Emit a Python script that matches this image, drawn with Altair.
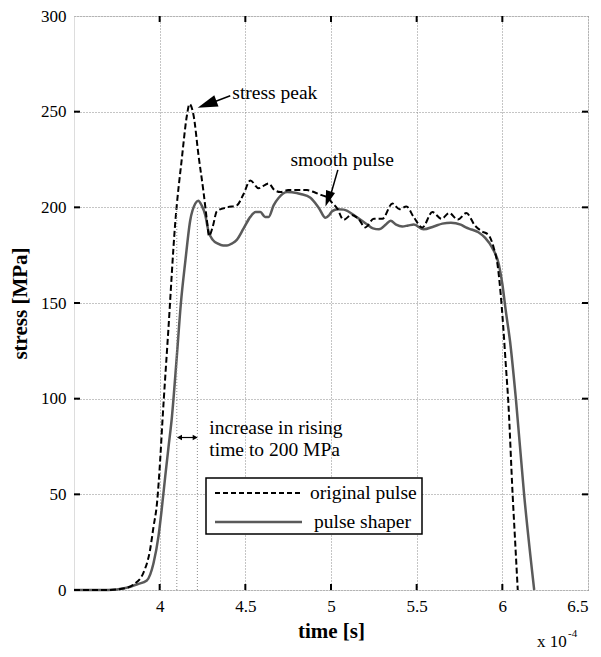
import altair as alt
import pandas as pd

# ---------------- data ----------------
orig_time = [3.50, 3.70, 3.80, 3.85, 3.905, 3.944, 3.964, 3.984, 4.003, 4.016, 4.05, 4.091,
             4.13, 4.159, 4.174, 4.198, 4.227, 4.256, 4.276, 4.288, 4.31, 4.334, 4.393, 4.45,
             4.49, 4.529, 4.578, 4.636, 4.67, 4.705, 4.75, 4.82, 4.86, 4.90, 4.94, 4.98, 5.01,
             5.036, 5.073, 5.12, 5.16, 5.20, 5.25, 5.30, 5.358, 5.40, 5.44, 5.482, 5.533, 5.592,
             5.645, 5.69, 5.74, 5.79, 5.84, 5.88, 5.92, 5.95, 5.972, 5.99, 6.005, 6.02, 6.035,
             6.06, 6.075, 6.09]
orig_stress = [0, 0, 1, 3, 9, 21, 33, 45, 68, 88, 135, 192,
               226, 248, 254, 248, 227, 208, 193, 185, 190, 198, 200, 201,
               207, 214, 210, 212.5, 209, 208, 209, 209, 209, 208, 206.5, 205, 202,
               199.5, 193.5, 196, 194, 189.5, 194, 194, 202, 199, 200.5, 195, 189.5, 197.5,
               194, 197, 193.6, 197, 190.5, 187.5, 185.5, 178.8, 170, 155, 138, 118, 98,
               50, 25, 0]

shaper_time = [3.50, 3.70, 3.80, 3.87, 3.925, 3.964, 3.993, 4.013, 4.032, 4.052, 4.071, 4.10,
               4.124, 4.15, 4.178, 4.208, 4.225, 4.245, 4.266, 4.285, 4.31, 4.34, 4.37, 4.393,
               4.42, 4.45, 4.49, 4.529, 4.56, 4.588, 4.615, 4.636, 4.665, 4.695, 4.744, 4.80,
               4.822, 4.88, 4.929, 4.968, 4.99, 5.007, 5.04, 5.075, 5.143, 5.212, 5.245, 5.28,
               5.32, 5.348, 5.38, 5.416, 5.45, 5.484, 5.54, 5.60, 5.65, 5.70, 5.757, 5.787,
               5.82, 5.86, 5.90, 5.94, 5.98, 6.00, 6.02, 6.045, 6.079, 6.127, 6.186]
shaper_stress = [0, 0, 1, 3, 5, 14, 28, 43, 59, 75, 90, 122,
                 150, 172, 193, 202, 203.5, 201, 196, 187.5, 183, 181, 180, 180,
                 181, 183, 189, 195, 197.5, 197.5, 195, 195, 201, 205, 208, 207.5,
                 207, 205, 199.7, 194.5, 196, 198, 199, 198.8, 195.3, 191, 189, 188.5,
                 191, 193, 191, 190, 190.5, 191, 188.5, 190, 191.5, 192, 191, 189.5,
                 188.4, 187, 184, 179, 170, 160, 146, 130, 100, 50, 0]

x_ticks = [4.0, 4.5, 5.0, 5.5, 6.0, 6.5]
y_ticks = [0, 50, 100, 150, 200, 250, 300]
inner_x_ticks = [4.0, 4.5, 5.0, 5.5, 6.0]
inner_y_ticks = [50, 100, 150, 200, 250]
rise_times = [4.10, 4.22]      # times to reach 200 MPa
rise_level = 200

# ---------------- layout ----------------
W, H = 514, 574
FONT = "Liberation Serif"
FS = 17      # tick labels
AFS = 19.5   # annotation / legend text
TFS = 21     # axis titles
GREY = "#5a5a5a"

xs = alt.Scale(domain=[3.5, 6.5], nice=False, zero=False)
ys = alt.Scale(domain=[0, 300], nice=False, zero=True)

orig_df = pd.DataFrame({"time": orig_time, "stress": orig_stress})
shaper_df = pd.DataFrame({"time": shaper_time, "stress": shaper_stress})
dummy = pd.DataFrame({"d": [0]})

axis_common = dict(domain=False, ticks=False, grid=True, gridColor="#8a8a8a",
                   gridDash=[1, 2], gridWidth=1, labelFont=FONT, labelFontSize=FS,
                   labelColor="black", titleFont=FONT, titleFontSize=TFS,
                   titleFontWeight="bold", titleColor="black")
X_AXIS = alt.Axis(values=x_ticks, format="~g", title="time [s]",
                  labelPadding=8, titlePadding=6, **axis_common)
Y_AXIS = alt.Axis(values=y_ticks, format="d", title="stress [MPa]",
                  labelPadding=8, titlePadding=10, **axis_common)


def X(field):
    return alt.X(field, scale=xs, axis=X_AXIS)


def Y(field):
    return alt.Y(field, scale=ys, axis=Y_AXIS)


shaper = alt.Chart(shaper_df).mark_line(color=GREY, strokeWidth=2.5,
                                        interpolate="monotone").encode(
    x=X("time:Q"), y=Y("stress:Q"), order="time:Q")

orig = alt.Chart(orig_df).mark_line(color="black", strokeWidth=2, strokeDash=[6, 3],
                                    interpolate="monotone").encode(
    x=X("time:Q"), y=Y("stress:Q"), order="time:Q")

# rise-time reference lines
refs = alt.Chart(pd.DataFrame({"t": rise_times})).mark_rule(
    color="#8a8a8a", strokeDash=[1, 2], strokeWidth=1).encode(
    x=X("t:Q"),
    y=alt.datum(0),
    y2=alt.datum(rise_level),
)

# inward ticks on all four sides
tx = pd.DataFrame({"t": inner_x_ticks})
ty = pd.DataFrame({"v": inner_y_ticks})
tick_style = dict(color="black", strokeWidth=2)
ticks_bottom = alt.Chart(tx).mark_rule(**tick_style).encode(
    x=X("t:Q"), y=alt.value(H), y2=alt.value(H - 6))
ticks_top = alt.Chart(tx).mark_rule(**tick_style).encode(
    x=X("t:Q"), y=alt.value(0), y2=alt.value(6))
ticks_left = alt.Chart(ty).mark_rule(**tick_style).encode(
    y=Y("v:Q"), x=alt.value(0), x2=alt.value(6))
ticks_right = alt.Chart(ty).mark_rule(**tick_style).encode(
    y=Y("v:Q"), x=alt.value(W - 6), x2=alt.value(W))


def text_at(label, x, y, size=AFS, align="left"):
    return alt.Chart(dummy).mark_text(font=FONT, fontSize=size, color="black",
                                      align=align, baseline="middle").encode(
        x=alt.datum(x), y=alt.datum(y), text=alt.value(label))


def shaft(x1, y1, x2, y2, w=1.5):
    return alt.Chart(dummy).mark_rule(color="black", strokeWidth=w).encode(
        x=alt.datum(x1), y=alt.datum(y1), x2=alt.datum(x2), y2=alt.datum(y2))


HEAD = "M0,0L-0.3,1L0.3,1Z"
SMALL_HEAD = "M0,0L-0.55,1L0.55,1Z"


def head(x, y, angle, size=1600, shape=HEAD):
    return alt.Chart(dummy).mark_point(shape=shape, filled=True, color="black",
                                       opacity=1, size=size, angle=angle,
                                       strokeWidth=0).encode(
        x=alt.datum(x), y=alt.datum(y))


annotations = [
    text_at("stress peak", 4.424, 260),
    shaft(4.412, 258.3, 4.27, 253.5),
    head(4.222, 252, 249.4),
    text_at("smooth pulse", 4.763, 224.5),
    shaft(5.04, 219.6, 4.99, 204),
    head(4.968, 200.5, 198.5, size=1000),
    text_at("increase in rising", 4.29, 84.9),
    text_at("time to 200 MPa", 4.29, 73.4),
    shaft(4.115, 79.7, 4.205, 79.7, w=1.2),
    head(4.101, 79.7, 270, size=100, shape=SMALL_HEAD),
    head(4.222, 79.7, 90, size=100, shape=SMALL_HEAD),
]

# legend box (drawn by hand, like the original's boxed legend)
legend_box = alt.Chart(dummy).mark_rect(fill="white", stroke="black", strokeWidth=1.5).encode(
    x=alt.value(132), x2=alt.value(348), y=alt.value(462), y2=alt.value(518))
legend_dash = alt.Chart(dummy).mark_rule(color="black", strokeWidth=2, strokeDash=[5, 3]).encode(
    x=alt.value(141), x2=alt.value(228), y=alt.value(477))
legend_solid = alt.Chart(dummy).mark_rule(color=GREY, strokeWidth=2.5).encode(
    x=alt.value(141), x2=alt.value(228), y=alt.value(506))
legend_t1 = alt.Chart(dummy).mark_text(font=FONT, fontSize=AFS, align="left", baseline="middle",
                                       color="black").encode(
    x=alt.value(236), y=alt.value(477), text=alt.value("original pulse"))
legend_t2 = alt.Chart(dummy).mark_text(font=FONT, fontSize=AFS, align="left", baseline="middle",
                                       color="black").encode(
    x=alt.value(240), y=alt.value(506), text=alt.value("pulse shaper"))

# axis multiplier "x 10^-4"
mult = alt.Chart(dummy).mark_text(font=FONT, fontSize=17, align="left", baseline="alphabetic",
                                  color="black").encode(
    x=alt.value(463), y=alt.value(631), text=alt.value("x 10"))
mult_exp = alt.Chart(dummy).mark_text(font=FONT, fontSize=11, align="left", baseline="alphabetic",
                                      color="black").encode(
    x=alt.value(494), y=alt.value(621), text=alt.value("-4"))

chart = alt.layer(
    shaper, orig, refs,
    ticks_bottom, ticks_top, ticks_left, ticks_right,
    *annotations,
    legend_box, legend_dash, legend_solid, legend_t1, legend_t2,
    mult, mult_exp,
).properties(
    width=W, height=H,
    autosize=alt.AutoSizeParams(type="none"),
    padding={"left": 66, "top": 8, "right": 5, "bottom": 63},
).configure_view(
    stroke="black", strokeWidth=2
).configure(background="white")

chart.save("out.html", embed_options={"renderer": "svg", "actions": False})
